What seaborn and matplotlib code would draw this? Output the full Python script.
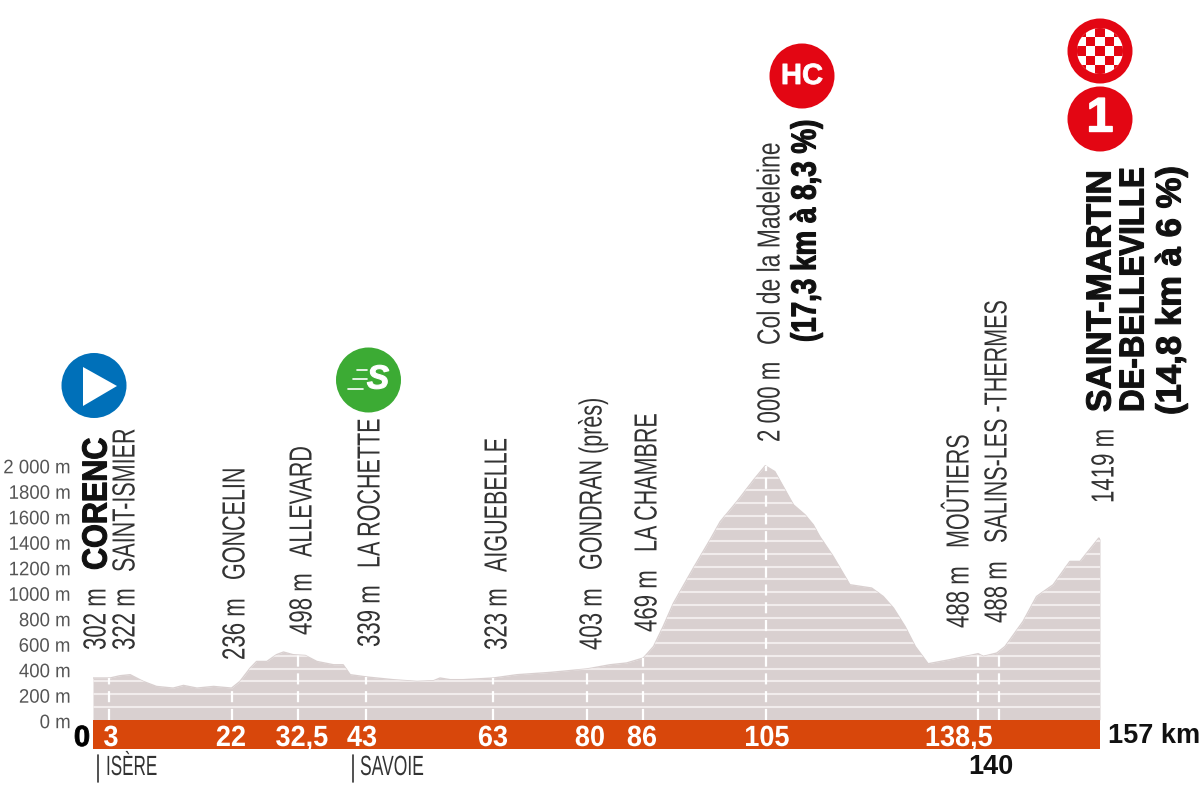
import matplotlib
matplotlib.use("Agg")
import matplotlib.pyplot as plt
from matplotlib.patches import Circle, Rectangle, Polygon
from matplotlib.patheffects import AbstractPathEffect
from matplotlib.transforms import Affine2D, ScaledTranslation
import seaborn as sns
import pandas as pd

# ---- data ----
profile_km = [0, 2.65, 4.2, 5.8, 6.8, 7.85, 9.9, 12.5, 14.1, 16.2, 18.8, 21.6, 22.9, 24.5, 25.5, 27.1,
              28.6, 29.7, 31.2, 33.1, 34.9, 37.5, 39.0, 40.1, 42.7, 46.8, 50.5, 53.1, 54.1, 55.7, 57.7,
              62.4, 66.1, 71.3, 77.0, 80.6, 83.2, 85.8, 87.4, 88.9, 90.5, 93.6, 96.2, 97.8, 100.4,
              103.0, 104.8, 106.3, 107.6, 109.2, 111.0, 112.3, 113.3, 115.4, 118.0, 121.4, 123.2,
              124.8, 126.6, 128.2, 130.2, 133.6, 138.0, 138.8, 140.9, 142.2, 145.0, 147.1, 149.7,
              152.3, 153.9, 156.8, 157]
profile_m = [327, 327, 345, 353, 327, 300, 261, 248, 269, 248, 261, 248, 300, 405, 457, 457,
             510, 531, 510, 504, 457, 431, 431, 353, 335, 314, 300, 306, 327, 314, 314,
             327, 353, 371, 398, 431, 445, 484, 575, 732, 915, 1190, 1412, 1555, 1712,
             1882, 1992, 1947, 1830, 1686, 1608, 1529, 1438, 1281, 1059, 1033, 967,
             876, 732, 575, 439, 471, 518, 497, 523, 575, 771, 967, 1059,
             1242, 1242, 1425, 1419]
marker_km = [2.5, 21.7, 31.9, 42.6, 62.4, 77.0, 85.75, 105.0, 138.0, 141.3]
marker_m = [327, 248, 504, 335, 327, 398, 484, 1992, 518, 560]
km_labels = ["3", "22", "32,5", "43", "63", "80", "86", "105", "138,5"]
elev_ticks = [0, 200, 400, 600, 800, 1000, 1200, 1400, 1600, 1800, 2000]
elev_labels = ["0 m", "200 m", "400 m", "600 m", "800 m", "1000 m", "1200 m", "1400 m", "1600 m", "1800 m", "2 000 m"]
stripe_m = list(range(100, 2100, 100))
altitudes = ["302 m", "322 m", "236 m", "498 m", "339 m", "323 m", "403 m", "469 m", "2 000 m", "488 m", "488 m", "1419 m"]
places = ["CORENC", "SAINT-ISMIER", "GONCELIN", "ALLEVARD", "LA ROCHETTE", "AIGUEBELLE", "GONDRAN (près)",
          "LA CHAMBRE", "Col de la Madeleine", "MOÛTIERS", "SALINS-LES -THERMES", "SAINT-MARTIN"]
extra_labels = ["(17,3 km à 8,3 %)", "DE-BELLEVILLE", "(14,8 km à 6 %)"]

# ---- layout (pixels of the 1200x788 canvas) ----
W, H = 1200, 788
alt_xy = [(94, 650), (123, 650), (233, 660), (300, 635), (368, 647), (495, 650), (590, 650), (645, 632),
          (768, 442), (957, 628), (995, 623), (1102, 503)]
place_xy = [(94, 570), (123, 572), (233, 580), (300, 557), (368, 568), (495, 572), (590, 570), (645, 552),
            (768, 345), (957, 548), (995, 543), (1098, 412)]
place_size = [22, 15.5, 15.5, 15.5, 15.5, 15.5, 15.5, 15.5, 16.5, 15.5, 15.5, 24.3]
place_bold = [True, False, False, False, False, False, False, False, False, False, False, True]
extra_xy = [(803, 342), (1131, 412), (1168, 415)]
extra_size = [20, 22.5, 25]
km_label_x = [111, 231, 302, 362, 493, 590, 642, 767, 959]
WIDE = ["Liberation Sans", "DejaVu Sans"]
INK = "#333333"
CAP = 23


class Stretch(AbstractPathEffect):
    """Draws a text taller than its font size gives, to get a condensed look."""

    def __init__(self, sy=1.0, stroke=0.0):
        super().__init__()
        self.sy, self.stroke = sy, stroke

    def draw_path(self, renderer, gc, tpath, affine, rgbFace=None):
        gc0 = renderer.new_gc()
        gc0.copy_properties(gc)
        if self.stroke:
            gc0.set_linewidth(self.stroke)
            gc0.set_foreground(rgbFace)
        renderer.draw_path(gc0, tpath, Affine2D().scale(1, self.sy) + affine, rgbFace)
        gc0.restore()


sns.set_theme(style="white")
fig = plt.figure(figsize=(W / 100, H / 100), dpi=100, facecolor="white")
ax = fig.add_axes([93 / W, (H - 749) / H, 1007 / W, 749 / H])
ax.set_xlim(0, 157)
ax.set_ylim(-230, 5647)
sns.despine(ax=ax, left=True, bottom=True, right=True, top=True)

AREA = "#d9d0d0"
poly = ax.fill_between(profile_km, 0, profile_m, color=AREA, lw=0, zorder=1)
df = pd.DataFrame({"km": profile_km, "m": profile_m})
sns.lineplot(data=df, x="km", y="m", color=AREA, lw=1, ax=ax, zorder=2, legend=False)
st = ax.hlines(stripe_m, 0, 157, color="#f1ecec", lw=1.5, zorder=3)
st.set_clip_path(poly.get_paths()[0], transform=ax.transData)
ax.vlines(marker_km, 0, marker_m, color="white", lw=1.6, linestyles=(0, (5, 3)), zorder=4)
ax.barh([-115], [157], height=230, left=0, color="#d8470b", edgecolor="none", zorder=5)

ax.set_xticks([])
ax.set_xlabel("")
ax.set_ylabel("")
ax.set_yticks(elev_ticks)
ax.set_yticklabels(elev_labels, family=WIDE, fontsize=13.4, color="#555555")
ax.tick_params(axis="y", length=0, pad=16)
down = ScaledTranslation(0, -2 / 100, fig.dpi_scale_trans)
for lab in ax.get_yticklabels():
    lab.set_transform(lab.get_transform() + down)
    lab.set_path_effects([Stretch(1.05)])


def text(x, y, s, **kw):
    return fig.text(x / W, 1 - y / H, s, **kw)


def vlabel(x, y, s, size, bold=False, cap=CAP, color=INK):
    t = text(x + cap / 2, y, s, rotation=90, rotation_mode="anchor", ha="left", va="baseline",
             fontsize=size, family=WIDE, fontweight="bold" if bold else "normal", color=color)
    t.set_path_effects([Stretch(cap / size, 0.8 if bold else 0.0)])


for (x, y), s in zip(alt_xy, altitudes):
    vlabel(x, y, s, 16)
for (x, y), s, b, z in zip(place_xy, places, place_bold, place_size):
    if b:
        vlabel(x, y, s, z, True, 25, "#111111")
    else:
        vlabel(x, y, s, z)
for (x, y), s, z in zip(extra_xy, extra_labels, extra_size):
    vlabel(x, y, s, z, True, 25, "#111111")

for x, s in zip(km_label_x, km_labels):
    t = text(x, 746, s, ha="center", va="baseline", color="white", fontsize=19.5, fontweight="bold", family=WIDE, zorder=6)
    t.set_path_effects([Stretch(1.08)])
t = text(82, 746, "0", ha="center", va="baseline", color="black", fontsize=21, fontweight="bold", family=WIDE)
t.set_path_effects([Stretch(1.0, 0.6)])
text(1108, 736, "157 km", ha="left", va="center", color="#111111", fontsize=19.5, fontweight="bold", family=WIDE)
text(991, 767, "140", ha="center", va="center", color="#111111", fontsize=19.5, fontweight="bold", family=WIDE)
for x, s, z in [(106, "ISÈRE", 12.3), (360, "SAVOIE", 12.6)]:
    t = text(x, 775, s, ha="left", va="baseline", color=INK, fontsize=z, family=WIDE)
    t.set_path_effects([Stretch(20 / z)])

# icons on a pixel overlay
ov = fig.add_axes([0, 0, 1, 1], facecolor="none")
ov.set_xlim(0, W)
ov.set_ylim(H, 0)
ov.axis("off")
ov.plot([98, 98], [755, 782], color=INK, lw=1.2)
ov.plot([353, 353], [755, 782], color=INK, lw=1.2)
R = 32.5
ov.add_patch(Circle((94, 385.5), R, color="#0070b9", lw=0))
ov.add_patch(Polygon([(83, 367), (83, 406), (117, 386)], closed=True, color="white", lw=0))
ov.add_patch(Circle((368.5, 380), R, color="#3cab34", lw=0))
s_icon = ov.text(378, 380, "S", color="white", fontsize=24, fontweight="bold", style="italic", family=WIDE, ha="center", va="center")
s_icon.set_path_effects([Stretch(1.0, 0.8)])
for yy, x0, x1 in [(370, 357, 367), (379, 353, 367), (389, 348, 363)]:
    ov.plot([x0, x1], [yy, yy], color="white", lw=1.2)
ov.add_patch(Circle((802, 76), R, color="#e30613", lw=0))
hc = ov.text(802, 76, "HC", color="white", fontsize=21, fontweight="bold", family=WIDE, ha="center", va="center")
hc.set_path_effects([Stretch(1.0, 0.6)])
ov.add_patch(Circle((1100, 119), R, color="#e30613", lw=0))
one = ov.text(1100, 119, "1", color="white", fontsize=35, fontweight="bold", family=WIDE, ha="center", va="center")
one.set_path_effects([Stretch(1.0, 1.0)])
ov.add_patch(Circle((1100, 51), R, color="#e30613", lw=0))
face = Circle((1100, 51), 23, facecolor="white", edgecolor="none")
ov.add_patch(face)
step = 9.2
for i in range(-3, 3):
    for j in range(-3, 3):
        if (i + j) % 2 == 0:
            r = Rectangle((1100 + (i - 0.5) * step, 51 + (j - 0.5) * step), step, step, color="#e30613", lw=0)
            ov.add_patch(r)
            r.set_clip_path(face)

fig.savefig("out.png", dpi=100, facecolor="white")
